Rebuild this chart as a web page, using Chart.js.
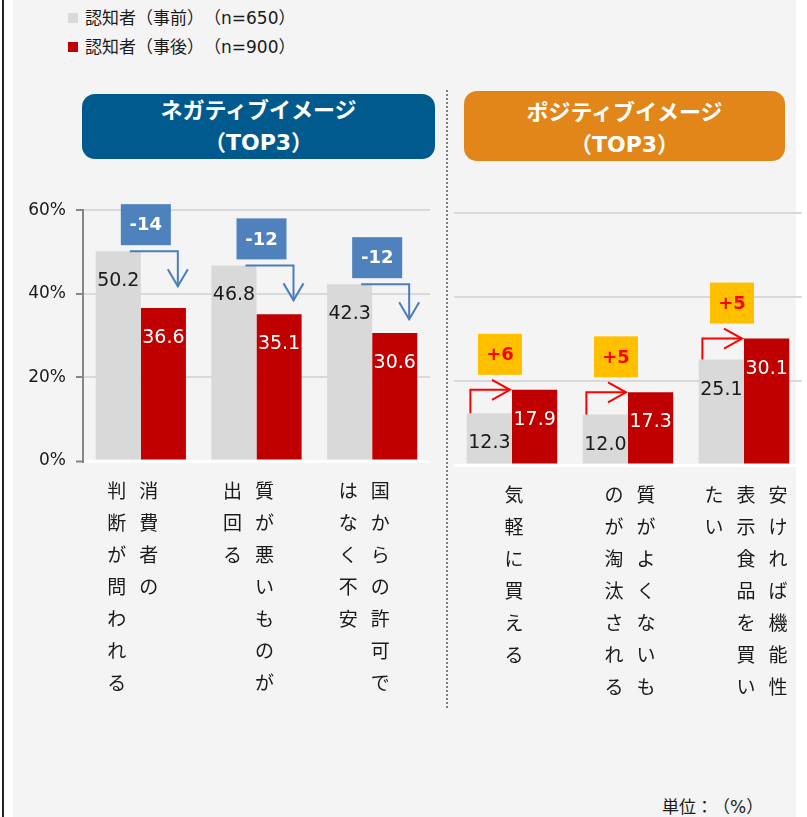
<!DOCTYPE html>
<html>
<head>
<meta charset="utf-8">
<script src="https://cdn.jsdelivr.net/npm/chart.js@4.4.1/dist/chart.umd.min.js"></script>
<style>
  html, body { margin: 0; padding: 0; background: #fff; }
  body { width: 807px; height: 817px; position: relative; overflow: hidden; font-family: "Noto Sans CJK JP", sans-serif; color: #1a1a1a; text-spacing-trim: space-all; }
  #edge { position: absolute; left: 2px; top: 0; width: 2px; height: 817px; background: #222; }
  #panel { position: absolute; left: 13px; top: 0; width: 783px; height: 817px; background: #f4f4f4; }
  .legend-item { position: absolute; left: 68px; font-family: "DejaVu Sans", "Noto Sans CJK JP", sans-serif; font-size: 17px; line-height: 20px; white-space: nowrap; }
  .legend-item i { position: absolute; left: 0; top: 5px; width: 10px; height: 10px; }
  .legend-item span { margin-left: 17px; }
  .header { position: absolute; color: #fff; font-family: "DejaVu Sans", "Noto Sans CJK JP", sans-serif; font-weight: bold; font-size: 22px; line-height: 32px; text-align: center; border-radius: 13px; box-sizing: border-box; }
  #divider { position: absolute; left: 446px; top: 90px; height: 618px; border-left: 2px dotted #7f7f7f; }
  canvas { position: absolute; }
  #unit { position: absolute; left: 662px; top: 795px; font-family: "DejaVu Sans", "Noto Sans CJK JP", sans-serif; font-size: 17px; line-height: 24px; }
</style>
</head>
<body>
<div id="edge"></div>
<div id="panel"></div>
<div id="legend"></div>
<div id="divider"></div>
<div class="header" id="headNeg" style="left:82px; top:94px; width:353px; height:65px; padding-top:1px; background:#005a8e;"></div>
<div class="header" id="headPos" style="left:464px; top:91px; width:321px; height:70px; padding-top:6px; background:#e2861a;"></div>
<canvas id="negChart" width="440" height="530" style="left:0; top:190px;"></canvas>
<canvas id="posChart" width="360" height="530" style="left:447px; top:190px;"></canvas>
<div id="unit">単位：（%）</div>
<script>
// data
const seriesNames = ['認知者（事前）（n=650）', '認知者（事後）（n=900）'];
const seriesColors = ['#d9d9d9', '#c00000'];
const negTitle = ['ネガティブイメージ', '（TOP3）'];
const posTitle = ['ポジティブイメージ', '（TOP3）'];
// vertical labels, columns from right to left
const negCategories = [['消費者の', '判断が問われる'], ['質が悪いものが', '出回る'], ['国からの許可で', 'はなく不安']];
const posCategories = [['気軽に買える'], ['質がよくないも', 'のが淘汰される'], ['安ければ機能性', '表示食品を買い', 'たい']];
const negBefore = [50.2, 46.8, 42.3];
const negAfter = [36.6, 35.1, 30.6];
const posBefore = [12.3, 12.0, 25.1];
const posAfter = [17.9, 17.3, 30.1];
const yTicks = [0, 20, 40, 60];

// legend + headers
const legend = document.getElementById('legend');
seriesNames.forEach((name, i) => {
  const row = document.createElement('div');
  row.className = 'legend-item';
  row.style.top = (8 + i * 29) + 'px';
  row.innerHTML = `<i style="background:${seriesColors[i]}"></i><span>${name}</span>`;
  legend.append(row);
});
document.getElementById('headNeg').innerHTML = negTitle.join('<br>');
document.getElementById('headPos').innerHTML = posTitle.join('<br>');

const valueLabels = {
  id: 'valueLabels',
  afterDatasetsDraw(chart) {
    const ctx = chart.ctx;
    ctx.save();
    ctx.font = '19px "DejaVu Sans"';
    ctx.textAlign = 'center';
    ctx.textBaseline = 'middle';
    chart.data.datasets.forEach((ds, d) => {
      chart.getDatasetMeta(d).data.forEach((bar, i) => {
        ctx.fillStyle = d === 0 ? '#1a1a1a' : '#ffffff';
        ctx.fillText(ds.data[i].toFixed(1), bar.x, bar.y + 30);
      });
    });
    ctx.restore();
  }
};

function drawBox(ctx, cx, bottom, w, h, fill, color, text) {
  ctx.fillStyle = fill;
  ctx.fillRect(cx - w / 2, bottom - h, w, h);
  ctx.fillStyle = color;
  ctx.font = 'bold 18px "DejaVu Sans"';
  ctx.textAlign = 'center';
  ctx.textBaseline = 'middle';
  ctx.fillText(text, cx, bottom - h / 2 + 1);
}

const changeMarks = {
  id: 'changeMarks',
  afterDatasetsDraw(chart) {
    const ctx = chart.ctx;
    const before = chart.getDatasetMeta(0).data;
    const after = chart.getDatasetMeta(1).data;
    const vb = chart.data.datasets[0].data;
    const va = chart.data.datasets[1].data;
    ctx.save();
    ctx.lineWidth = 2;
    before.forEach((b, i) => {
      const a = after[i];
      const diff = Math.round(va[i] - vb[i]);
      const mid = (b.x + a.x) / 2;
      if (diff < 0) {
        const x0 = mid - 11, x1 = mid + 37, y0 = b.y, y1 = b.y + 35;
        ctx.strokeStyle = '#4a7ebb';
        ctx.beginPath();
        ctx.moveTo(x0, y0); ctx.lineTo(x1, y0); ctx.lineTo(x1, y1);
        ctx.stroke();
        ctx.beginPath();
        ctx.moveTo(x1 - 10, y1 - 17); ctx.lineTo(x1, y1); ctx.lineTo(x1 + 10, y1 - 17);
        ctx.stroke();
        drawBox(ctx, mid + 5, b.y - 6, 50, 41, '#4f81bd', '#ffffff', String(diff));
      } else {
        const x0 = b.x - 19, x1 = a.x - a.width / 2 - 2, y0 = b.y, y1 = a.y;
        ctx.strokeStyle = '#ff0000';
        ctx.beginPath();
        ctx.moveTo(x0, y0); ctx.lineTo(x0, y1); ctx.lineTo(x1, y1);
        ctx.stroke();
        ctx.beginPath();
        ctx.moveTo(x1 - 18, y1 - 10); ctx.lineTo(x1, y1); ctx.lineTo(x1 - 18, y1 + 10);
        ctx.stroke();
        drawBox(ctx, mid - 12, a.y - 15, 44, 41, '#ffc000', '#ff0000', '+' + diff);
      }
    });
    ctx.restore();
  }
};

const verticalLabels = {
  id: 'verticalLabels',
  afterDraw(chart, args, opts) {
    const ctx = chart.ctx;
    const xs = chart.scales.x;
    const top = chart.chartArea.bottom + 30;
    ctx.save();
    ctx.font = '19px "Noto Sans CJK JP"';
    ctx.fillStyle = '#1a1a1a';
    ctx.textAlign = 'center';
    ctx.textBaseline = 'middle';
    chart.data.labels.forEach((cols, i) => {
      const cx = xs.getPixelForValue(i) + opts.shift;
      cols.forEach((col, c) => {
        const x = cx + ((cols.length - 1) / 2 - c) * 32;
        Array.from(col).forEach((ch, r) => ctx.fillText(ch, x, top + r * 32));
      });
    });
    ctx.restore();
  }
};

const gridColor = c => c.tick.value === 0 ? '#ffffff' : '#d9d9d9';
const gridWidth = c => c.tick.value === 0 ? 3 : 2;

function makeChart(id, labels, before, after, showAxis, padding, shift) {
  return new Chart(document.getElementById(id), {
    type: 'bar',
    data: {
      labels: labels,
      datasets: [
        { label: seriesNames[0], data: before, backgroundColor: seriesColors[0] },
        { label: seriesNames[1], data: after, backgroundColor: seriesColors[1] }
      ]
    },
    options: {
      responsive: false,
      animation: false,
      devicePixelRatio: 1,
      layout: { padding: padding },
      datasets: { bar: { categoryPercentage: 0.78, barPercentage: 1.0 } },
      plugins: {
        legend: { display: false },
        tooltip: { enabled: false },
        verticalLabels: { shift: shift }
      },
      scales: {
        x: { display: false },
        y: {
          min: 0,
          max: 60,
          afterBuildTicks: s => { s.ticks = yTicks.map(v => ({ value: v })); },
          ticks: showAxis
            ? { callback: v => v + '%', font: { family: 'DejaVu Sans', size: 17 }, color: '#1a1a1a', padding: 10 }
            : { display: false },
          grid: showAxis
            ? { color: gridColor, lineWidth: gridWidth, tickColor: '#868686', tickLength: 7, tickWidth: 2 }
            : { color: gridColor, lineWidth: gridWidth, drawTicks: false },
          border: showAxis ? { color: '#868686', width: 2 } : { display: false },
          afterFit: s => { s.width = showAxis ? 83 : 0; }
        }
      }
    },
    plugins: [valueLabels, changeMarks, verticalLabels]
  });
}

makeChart('negChart', negCategories, negBefore, negAfter, true,
  { top: 20, right: 10, bottom: 259, left: 0 }, -8);
makeChart('posChart', posCategories, posBefore, posAfter, false,
  { top: 23, right: 5, bottom: 255, left: 7 }, 2);
</script>
</body>
</html>
